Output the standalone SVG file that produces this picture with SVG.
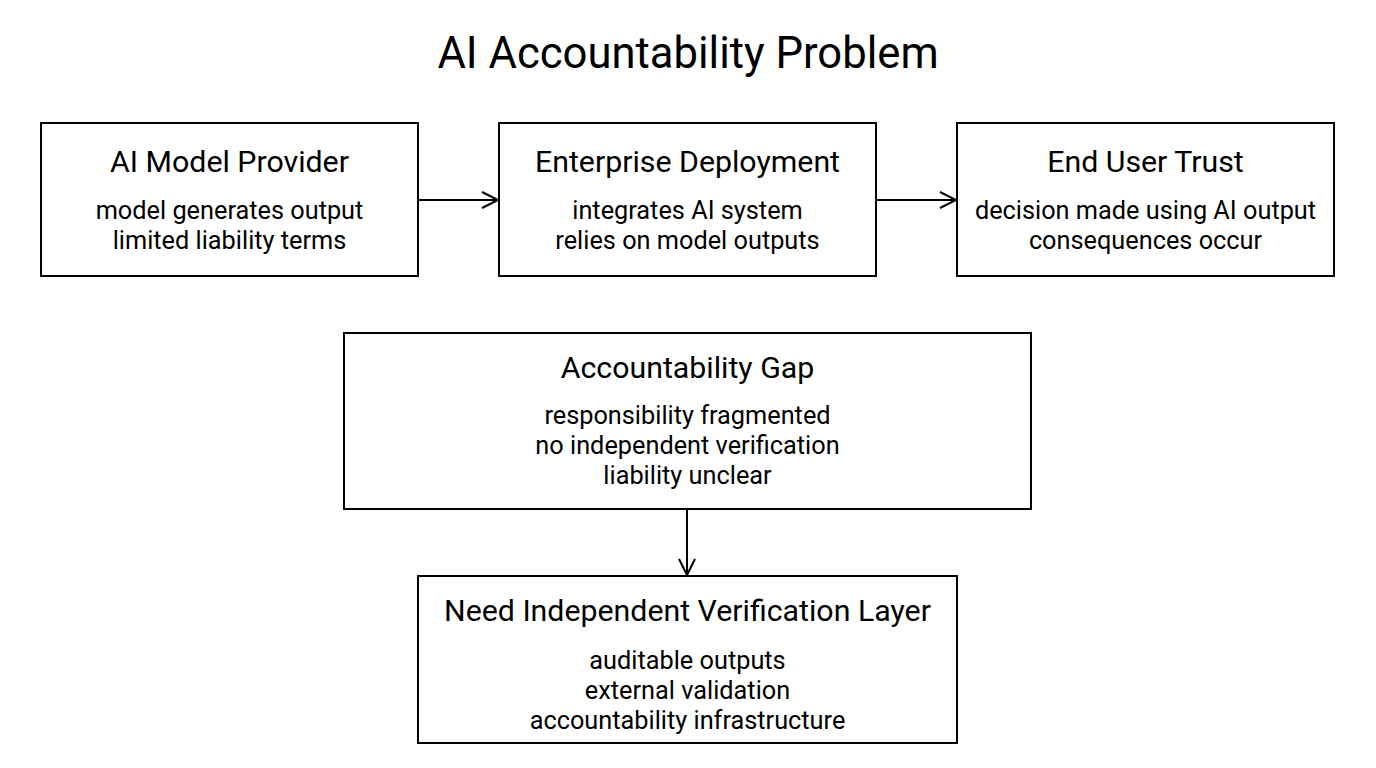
<svg xmlns="http://www.w3.org/2000/svg" width="1376" height="768" viewBox="0 0 1376 768">
<style>
.box{fill:#fff;stroke:#000;stroke-width:2}
text{font-family:Roboto,"Liberation Sans",sans-serif;fill:#000;text-anchor:middle}
.title{font-size:43.6px}
.h{font-size:30.3px}
.b{font-size:25.3px}
.conn{stroke:#000;stroke-width:2;fill:none}
</style>
<defs>
<marker id="arr" markerWidth="20" markerHeight="20" refX="17" refY="9" orient="auto" markerUnits="userSpaceOnUse">
<path d="M1,1 L17,9 L1,17" fill="none" stroke="#000" stroke-width="2"/>
</marker>
</defs>
<rect width="1376" height="768" fill="#fff"/>
<text class="title" x="688" y="68">AI Accountability Problem</text>
<g id="provider">
<rect class="box" x="41" y="123" width="377" height="153"/>
<text class="h" x="229.5" y="172">AI Model Provider</text>
<text class="b" x="229.5" y="219">model generates output</text>
<text class="b" x="229.5" y="249">limited liability terms</text>
</g>
<g id="enterprise">
<rect class="box" x="499" y="123" width="377" height="153"/>
<text class="h" x="687.5" y="172">Enterprise Deployment</text>
<text class="b" x="687.5" y="219">integrates AI system</text>
<text class="b" x="687.5" y="249">relies on model outputs</text>
</g>
<g id="enduser">
<rect class="box" x="957" y="123" width="377" height="153"/>
<text class="h" x="1145.5" y="172">End User Trust</text>
<text class="b" x="1145.5" y="219">decision made using AI output</text>
<text class="b" x="1145.5" y="249">consequences occur</text>
</g>
<g id="gap">
<rect class="box" x="344" y="333" width="687" height="176"/>
<text class="h" x="687.5" y="378">Accountability Gap</text>
<text class="b" x="687.5" y="424">responsibility fragmented</text>
<text class="b" x="687.5" y="454">no independent verification</text>
<text class="b" x="687.5" y="484">liability unclear</text>
</g>
<g id="need">
<rect class="box" x="418" y="576" width="539" height="167"/>
<text class="h" x="687.5" y="621">Need Independent Verification Layer</text>
<text class="b" x="687.5" y="669">auditable outputs</text>
<text class="b" x="687.5" y="699">external validation</text>
<text class="b" x="687.5" y="729">accountability infrastructure</text>
</g>
<g id="connectors">
<line class="conn" x1="418" y1="200" x2="498" y2="200" marker-end="url(#arr)"/>
<line class="conn" x1="876" y1="200" x2="956" y2="200" marker-end="url(#arr)"/>
<line class="conn" x1="687" y1="509" x2="687" y2="575" marker-end="url(#arr)"/>
</g>
</svg>
